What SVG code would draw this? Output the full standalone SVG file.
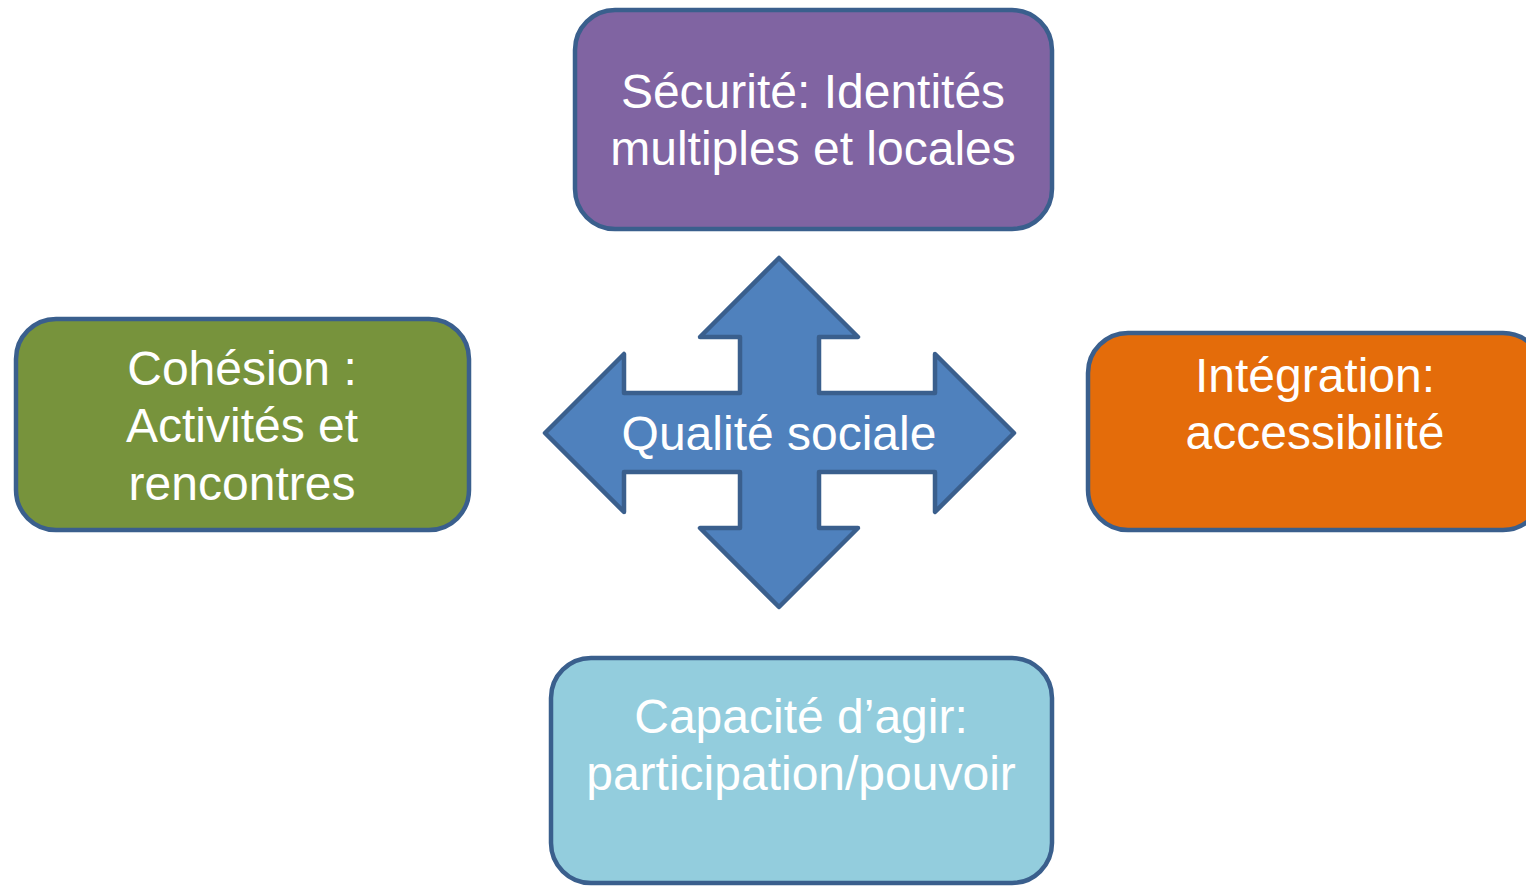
<svg xmlns="http://www.w3.org/2000/svg" width="1526" height="886" viewBox="0 0 1526 886">
<style>
.box{stroke:#3A5F8D;stroke-width:4.5}
.t{font-family:"Liberation Sans",Arial,sans-serif;font-size:48px;fill:#FFFFFF;text-anchor:middle}
</style>
<rect width="1526" height="886" fill="#FFFFFF"/>
<g id="connectors">
<path id="cross" d="M779,258 L858,337 L819,337 L819,393 L935,393 L935,354 L1014,433 L935,512 L935,472 L819,472 L819,528 L858,528 L779,607 L700,528 L740,528 L740,472 L624,472 L624,512 L545,433 L624,354 L624,393 L740,393 L740,337 L700,337 Z" fill="#4F81BD" stroke="#3A5F8D" stroke-width="4.5" stroke-linejoin="round"/>
<text class="t" x="779" y="450">Qualité sociale</text>
</g>
<g id="securite">
<rect class="box" x="575" y="10" width="477" height="219" rx="40" fill="#8064A2"/>
<text class="t" x="813" y="108">Sécurité: Identités</text>
<text class="t" x="813" y="165">multiples et locales</text>
</g>
<g id="cohesion">
<rect class="box" x="16" y="319" width="453" height="211" rx="40" fill="#77933C"/>
<text class="t" x="242" y="385">Cohésion :</text>
<text class="t" x="242" y="442">Activités et</text>
<text class="t" x="242" y="500">rencontres</text>
</g>
<g id="integration">
<rect class="box" x="1088" y="333" width="455" height="197" rx="40" fill="#E46C0A"/>
<text class="t" x="1315" y="392">Intégration:</text>
<text class="t" x="1315" y="449">accessibilité</text>
</g>
<g id="capacite">
<rect class="box" x="551" y="658" width="501" height="225" rx="40" fill="#93CDDD"/>
<text class="t" x="801" y="733">Capacité d’agir:</text>
<text class="t" x="801" y="790">participation/pouvoir</text>
</g>
</svg>
